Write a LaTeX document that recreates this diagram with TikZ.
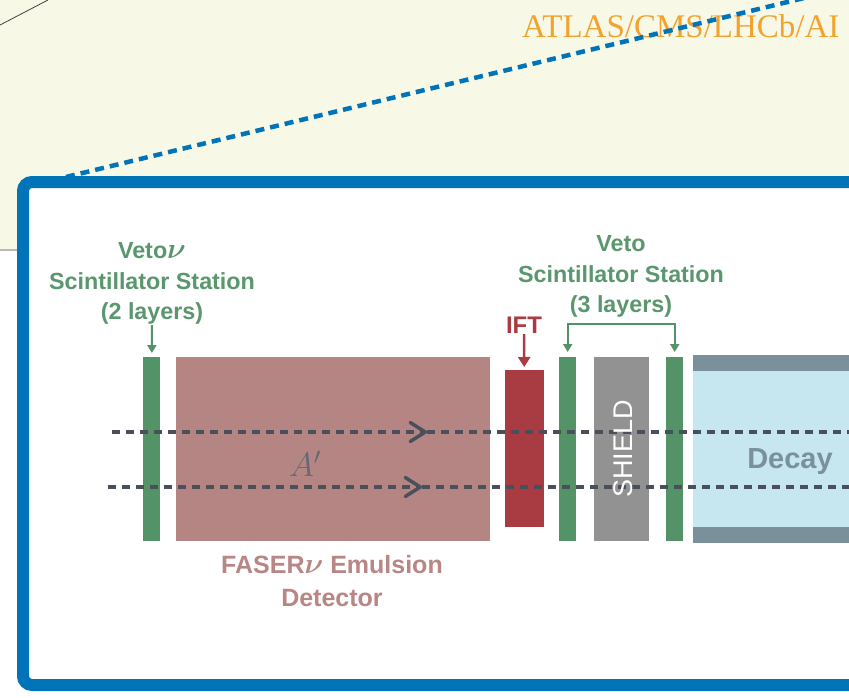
\RequirePackage{fix-cm}
\documentclass[tikz,border=0pt]{standalone}
\usepackage{fontspec}
\setsansfont{Liberation Sans}
\newfontfamily\atlasfont{Liberation Serif}
\usepackage{tikz}
\usetikzlibrary{arrows.meta, positioning, decorations.pathmorphing}
\definecolor{CreamBg}{RGB}{248,248,231}
\definecolor{FrameBlue}{RGB}{0,115,185}
\definecolor{AtlasOrange}{RGB}{242,163,45}
\definecolor{VetoGreen}{RGB}{84,147,104}
\definecolor{LabelGreen}{RGB}{90,151,110}
\definecolor{EmulBrown}{RGB}{180,133,131}
\definecolor{FaserText}{RGB}{184,134,133}
\definecolor{IftRed}{RGB}{168,60,66}
\definecolor{ShieldGray}{RGB}{146,146,146}
\definecolor{DecayBlue}{RGB}{199,231,240}
\definecolor{DecayBand}{RGB}{122,145,155}
\definecolor{BeamGray}{RGB}{74,79,92}
\newcommand{\nub}{{\fontsize{29}{29}\selectfont\boldmath$\nu$}}
\tikzset{
  blk/.style={anchor=north west, inner sep=0pt, draw=none, minimum height=184pt},
  vetobar/.style={blk, fill=VetoGreen, minimum width=17pt},
  emulbox/.style={blk, fill=EmulBrown, minimum width=314pt},
  iftbar/.style={blk, fill=IftRed, minimum width=39pt, minimum height=157pt},
  shieldbox/.style={blk, fill=ShieldGray, minimum width=55pt},
  decaybox/.style={blk, fill=DecayBlue, minimum width=180pt, minimum height=188pt},
  decayband/.style={blk, fill=DecayBand, minimum width=180pt, minimum height=16pt},
  lbl/.style={inner sep=0pt, align=center, font=\sffamily\bfseries\fontsize{23.3}{30.5}\selectfont},
  greenlbl/.style={lbl, text=LabelGreen},
  greenarr/.style={-{Triangle[width=9pt, length=8pt]}, line width=2pt, VetoGreen},
  redarr/.style={-{Triangle[width=12pt, length=10pt]}, line width=2.6pt, IftRed},
  beam/.style={BeamGray, line width=3.5pt, dash pattern=on 8pt off 6pt},
  beamtip/.style={-{Straight Barb[length=15pt, width=19pt, round]}},
  zoomline/.style={FrameBlue, line width=4.5pt, dash pattern=on 9pt off 6pt},
  frame/.style={FrameBlue, line width=12pt, fill=white, rounded corners=9pt},
}
\begin{document}
\begin{tikzpicture}[x=1pt, y=-1pt]
  \useasboundingbox (0,0) rectangle (849,697);
  \clip (0,0) rectangle (849,697);
  \fill[CreamBg] (0,0) rectangle (849,250);
  \draw[gray!55, line width=1.2pt] (0,250) -- (849,250);
  \draw[black!75, line width=0.8pt] (0,25) -- (48,0);
  \node[anchor=base west, inner sep=0pt, text=AtlasOrange,
    font=\atlasfont\fontsize{33}{33}\selectfont] (atlas) at (522,37) {ATLAS/CMS/LHCb/AI};
  \coordinate (zoomA) at (66,177);
  \coordinate (zoomB) at (870,-18);
  \draw[zoomline] (zoomA) -- (zoomB);
  \draw[frame] (23,182) rectangle (920,685);

  % detector elements
  \node[vetobar] (veto1) at (143,357) {};
  \node[emulbox] (emul) at (176,357) {};
  \node[iftbar] (ift) at (505,370) {};
  \node[vetobar] (veto2) at (559,357) {};
  \node[shieldbox] (shield) at (594,357) {};
  \node[vetobar] (veto3) at (666,357) {};
  \node[decaybox] (decay) at (693,355) {};
  \node[decayband] (decaytop) at (693,355) {};
  \node[decayband] (decaybot) at (693,527) {};
  \node[lbl, text=DecayBand, font=\sffamily\bfseries\fontsize{29}{29}\selectfont, anchor=base]
    (decaylbl) at (790,468) {Decay};

  % labels
  \node[greenlbl, anchor=south] (veto1lbl) at (152,325) {Veto\nub\\Scintillator Station\\(2 layers)};
  \draw[greenarr, shorten >=4pt] (veto1lbl) -- (veto1);
  \node[greenlbl, anchor=south] (veto2lbl) at (621,318) {Veto\\Scintillator Station\\(3 layers)};
  \draw[greenarr, {Triangle[width=9pt, length=8pt]}-{Triangle[width=9pt, length=8pt]}]
    ([yshift=5pt]veto2.north) -- ++(0,-28) -| ([yshift=5pt]veto3.north);
  \node[lbl, text=IftRed, font=\sffamily\bfseries\fontsize{24}{24}\selectfont, anchor=south]
    (iftlbl) at (524,334) {IFT};
  \draw[redarr, shorten >=3pt] (iftlbl) -- (ift);
  \node[lbl, text=FaserText, anchor=north, font=\sffamily\bfseries\fontsize{25}{33}\selectfont]
    (faserlbl) at (332,555) {FASER\nub\ Emulsion\\Detector};

  % beams
  \coordinate (b1s) at (112,432);
  \coordinate (b1m) at (427,432);
  \coordinate (b1e) at (870,432);
  \coordinate (b2s) at (108,487);
  \coordinate (b2m) at (422,487);
  \coordinate (b2e) at (870,487);
  \draw[beam, beamtip] (b1s) -- (b1m);
  \draw[beam] (b1m) -- (b1e);
  \draw[beam, beamtip] (b2s) -- (b2m);
  \draw[beam] (b2m) -- (b2e);
  \node[text=BeamGray!85, font=\fontsize{34}{34}\selectfont] (aprime) at (305,464) {$A'$};
  \node[rotate=90, inner sep=0pt, text=white, font=\sffamily\fontsize{27}{27}\selectfont]
    (shieldlbl) at (623,449) {SHIELD};
\end{tikzpicture}
\end{document}
